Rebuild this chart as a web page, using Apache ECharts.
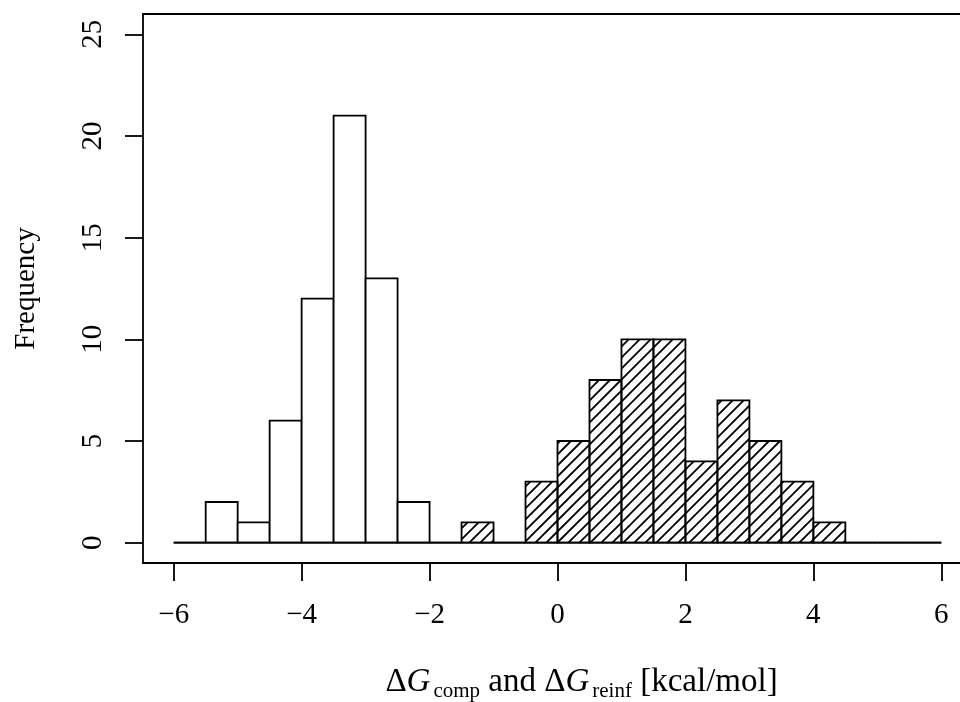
<!DOCTYPE html>
<html>
<head>
<meta charset="utf-8">
<script src="https://cdn.jsdelivr.net/npm/echarts@6/dist/echarts.min.js"></script>
<style>
  html, body { margin: 0; padding: 0; background: #fff; }
  #chart-container { width: 960px; height: 702px; }
</style>
</head>
<body>
<div id="chart-container"></div>
<script>
// histogram bins, width 0.5, from -6 to 6
var binStarts = [-6, -5.5, -5, -4.5, -4, -3.5, -3, -2.5, -2, -1.5, -1, -0.5,
                 0, 0.5, 1, 1.5, 2, 2.5, 3, 3.5, 4, 4.5, 5, 5.5];
// dG_comp (open bars)
var compCounts = [0, 2, 1, 6, 12, 21, 13, 2, 0, 0, 0, 0,
                  0, 0, 0, 0, 0, 0, 0, 0, 0, 0, 0, 0];
// dG_reinf (hatched bars)
var reinfCounts = [0, 0, 0, 0, 0, 0, 0, 0, 0, 1, 0, 3,
                   5, 8, 10, 10, 4, 7, 5, 3, 1, 0, 0, 0];
var binWidth = 0.5;
var xTicks = [-6, -4, -2, 0, 2, 4, 6];
var yTicks = [0, 5, 10, 15, 20, 25];

var FONT = "'Liberation Serif', 'DejaVu Serif', serif";
var FS = 29;
var TFS = 33;
var LW = 1.8;

var dom = document.getElementById("chart-container");
var myChart = echarts.init(dom, null, { renderer: "canvas" });

function toData(counts) {
  return binStarts.map(function (s, i) { return [s, counts[i]]; });
}

function makeRender(hatched) {
  return function (params, api) {
    var start = api.value(0);
    var count = api.value(1);
    var p0 = api.coord([start, count]);
    var p1 = api.coord([start + binWidth, 0]);
    var x0 = p0[0], y0 = p0[1], x1 = p1[0], y1 = p1[1];
    var children = [];
    if (hatched && count > 0) {
      // 45 degree lines x + y = c, anchored globally so they line up across bars
      var step = 11;
      var cStart = Math.ceil((x0 + y0) / step) * step;
      for (var c = cStart; c <= x1 + y1; c += step) {
        var xa = Math.max(x0, c - y1);
        var xb = Math.min(x1, c - y0);
        if (xb <= xa) continue;
        children.push({
          type: "line",
          shape: { x1: xa, y1: c - xa, x2: xb, y2: c - xb },
          style: { stroke: "#000", lineWidth: LW }
        });
      }
    }
    children.push({
      type: "rect",
      shape: { x: x0, y: y0, width: x1 - x0, height: y1 - y0 },
      style: { fill: hatched ? null : "#fff", stroke: "#000", lineWidth: LW }
    });
    return { type: "group", children: children };
  };
}

var option = {
  backgroundColor: "#fff",
  animation: false,
  grid: {
    left: 143,
    top: 14,
    width: 829,
    bottom: 139,
    outerBoundsMode: "none",
    containLabel: false,
    show: true,
    borderColor: "#000",
    borderWidth: LW,
    backgroundColor: "transparent"
  },
  xAxis: {
    type: "value",
    min: -6.48,
    max: 6.48,
    splitLine: { show: false },
    axisLine: { show: false, onZero: false },
    axisTick: {
      show: true,
      customValues: xTicks,
      length: 18,
      lineStyle: { color: "#000", width: LW }
    },
    axisLabel: {
      customValues: xTicks,
      margin: 38,
      color: "#000",
      fontFamily: FONT,
      fontSize: FS,
      formatter: function (v) { return v < 0 ? "\u2212" + Math.abs(v) : String(v); }
    },
    name: "{d|\u0394}{g|G}{s|comp}{t| and }{d|\u0394}{g|G}{s|reinf}{t| [kcal/mol]}",
    nameLocation: "middle",
    nameGap: 103,
    nameTextStyle: {
      color: "#000",
      fontFamily: FONT,
      fontSize: TFS,
      padding: [0, 0, 0, 48],
      rich: {
        d: { fontFamily: FONT, fontSize: TFS, color: "#000", verticalAlign: "bottom", padding: [0, 0, 3, 0] },
        g: { fontFamily: FONT, fontSize: TFS, fontStyle: "italic", color: "#000", verticalAlign: "bottom", padding: [0, 3, 3, 0] },
        t: { fontFamily: FONT, fontSize: TFS, color: "#000", verticalAlign: "bottom", padding: [0, 0, 3, 0] },
        s: { fontFamily: FONT, fontSize: 21, color: "#000", verticalAlign: "bottom" }
      }
    }
  },
  yAxis: {
    type: "value",
    min: -1,
    max: 26,
    splitLine: { show: false },
    axisLine: { show: false, onZero: false },
    axisTick: {
      show: true,
      customValues: yTicks,
      length: 18,
      lineStyle: { color: "#000", width: LW }
    },
    axisLabel: {
      customValues: yTicks,
      rotate: 90,
      margin: 35,
      color: "#000",
      fontFamily: FONT,
      fontSize: FS
    },
    name: "Frequency",
    nameLocation: "middle",
    nameGap: 102,
    nameTextStyle: { color: "#000", fontFamily: FONT, fontSize: FS }
  },
  series: [
    {
      name: "comp",
      type: "custom",
      renderItem: makeRender(false),
      encode: { x: 0, y: 1 },
      data: toData(compCounts)
    },
    {
      name: "reinf",
      type: "custom",
      renderItem: makeRender(true),
      encode: { x: 0, y: 1 },
      data: toData(reinfCounts)
    }
  ]
};

myChart.setOption(option);
window.addEventListener("resize", myChart.resize);
</script>
</body>
</html>
